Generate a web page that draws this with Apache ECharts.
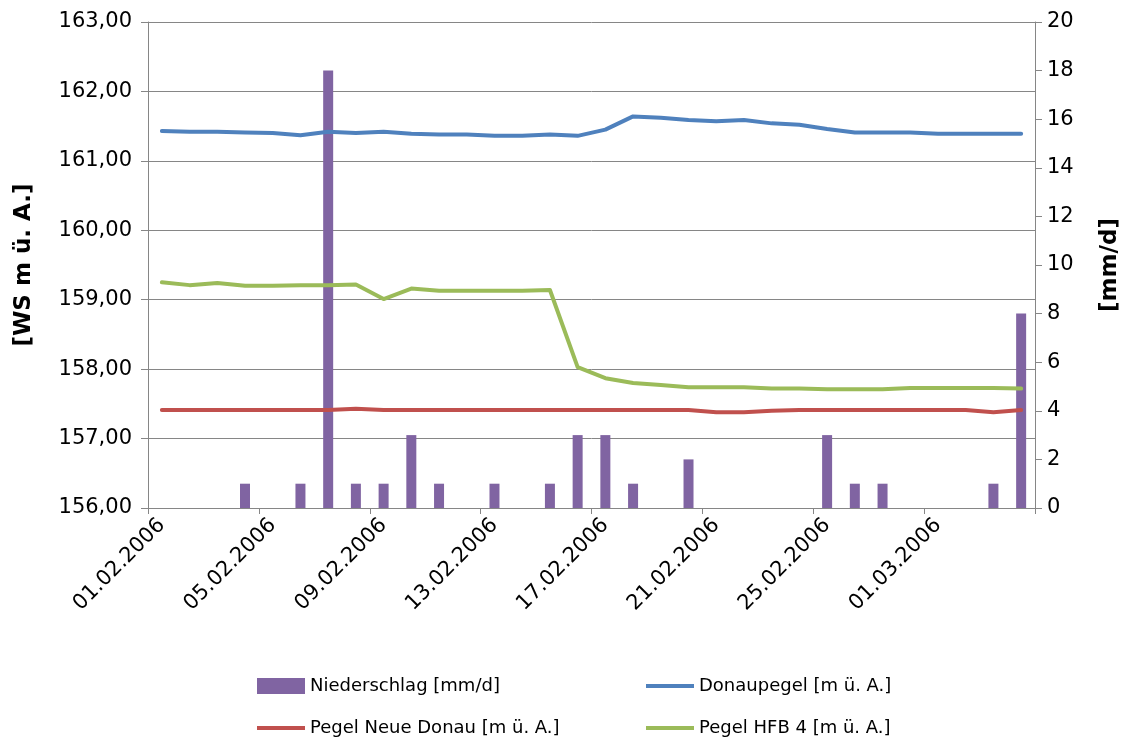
<!DOCTYPE html>
<html><head><meta charset="utf-8">
<script src="https://cdn.jsdelivr.net/npm/echarts@6/dist/echarts.min.js"></script>
<style>html,body{margin:0;padding:0;background:#fff}#c{width:1131px;height:740px}</style>
</head><body><div id="c"></div>
<script>
const dates = ['01.02.2006','02.02.2006','03.02.2006','04.02.2006','05.02.2006','06.02.2006','07.02.2006','08.02.2006',
  '09.02.2006','10.02.2006','11.02.2006','12.02.2006','13.02.2006','14.02.2006','15.02.2006','16.02.2006',
  '17.02.2006','18.02.2006','19.02.2006','20.02.2006','21.02.2006','22.02.2006','23.02.2006','24.02.2006',
  '25.02.2006','26.02.2006','27.02.2006','28.02.2006','01.03.2006','02.03.2006','03.03.2006','04.03.2006'];
const niederschlag = [0,0,0,1,0,1,18,1,1,3,1,0,1,0,1,3,3,1,0,2,0,0,0,0,3,1,1,0,0,0,1,8];
const donaupegel = [161.43,161.42,161.42,161.41,161.40,161.37,161.42,161.40,161.42,161.39,161.38,161.38,161.36,161.36,161.38,161.36,
  161.45,161.64,161.62,161.59,161.57,161.59,161.54,161.52,161.46,161.41,161.41,161.41,161.39,161.39,161.39,161.39];
const neueDonau = [157.41,157.41,157.41,157.41,157.41,157.41,157.41,157.43,157.41,157.41,157.41,157.41,157.41,157.41,157.41,157.41,
  157.41,157.41,157.41,157.41,157.38,157.38,157.40,157.41,157.41,157.41,157.41,157.41,157.41,157.41,157.38,157.41];
const hfb4 = [159.25,159.21,159.24,159.20,159.20,159.21,159.21,159.22,159.01,159.16,159.13,159.13,159.13,159.13,159.14,158.03,
  157.87,157.80,157.77,157.74,157.74,157.74,157.72,157.72,157.71,157.71,157.71,157.73,157.73,157.73,157.73,157.72];
const leftTicks = {min:156, max:163, interval:1};
const rightTicks = {min:0, max:20, interval:2};
const names = ['Niederschlag [mm/d]','Donaupegel [m ü. A.]','Pegel Neue Donau [m ü. A.]','Pegel HFB 4 [m ü. A.]'];

const FONT = 'DejaVu Sans';
const GREY = '#868686';
const chart = echarts.init(document.getElementById('c'), null, {renderer:'canvas'});
const legendBase = (name, left, top, w, h, color) => ({
  data:[{name, icon:'rect', itemStyle:{color}}], left, top, itemWidth:w, itemHeight:h, itemGap:0, padding:0,
  textStyle:{fontFamily:FONT, fontSize:18, color:'#000'},
  selectedMode:false
});
chart.setOption({
  animation:false,
  backgroundColor:'#fff',
  grid:{left:148, right:96, top:22, bottom:232, containLabel:false},
  legend:[
    legendBase(names[0], 257, 677, 48, 16, '#8064A2'),
    legendBase(names[1], 646, 677, 48, 4, '#4F81BD'),
    legendBase(names[2], 257, 719, 48, 4, '#C0504D'),
    legendBase(names[3], 646, 719, 48, 4, '#9BBB59')
  ],
  xAxis:{
    type:'category', data:dates, boundaryGap:true,
    axisLine:{lineStyle:{color:GREY, width:1}},
    axisTick:{show:true, interval:3, length:6, lineStyle:{color:GREY}},
    axisLabel:{interval:3, rotate:45, fontFamily:FONT, fontSize:21, color:'#000', margin:14}
  },
  yAxis:[
    {type:'value', min:leftTicks.min, max:leftTicks.max, interval:leftTicks.interval, position:'left',
     name:'[WS m ü. A.]', nameLocation:'middle', nameGap:112, nameRotate:90,
     nameTextStyle:{fontFamily:FONT, fontSize:23, fontWeight:'bold', color:'#000'},
     axisLine:{show:true, lineStyle:{color:GREY}},
     axisTick:{show:true, length:7, lineStyle:{color:GREY}},
     axisLabel:{fontFamily:FONT, fontSize:21, color:'#000', margin:16,
       formatter:v=>v.toFixed(2).replace('.',',')},
     splitLine:{show:true, lineStyle:{color:GREY, width:1}}},
    {type:'value', min:rightTicks.min, max:rightTicks.max, interval:rightTicks.interval, position:'right',
     name:'[mm/d]', nameLocation:'middle', nameGap:64, nameRotate:90,
     nameTextStyle:{fontFamily:FONT, fontSize:23, fontWeight:'bold', color:'#000'},
     axisLine:{show:true, lineStyle:{color:GREY}},
     axisTick:{show:true, length:7, lineStyle:{color:GREY}},
     axisLabel:{fontFamily:FONT, fontSize:21, color:'#000', margin:12},
     splitLine:{show:false}}
  ],
  series:[
    {name:names[0], type:'bar', yAxisIndex:1, data:niederschlag, barWidth:10, z:1,
     itemStyle:{color:'#8064A2'}},
    {name:names[1], type:'line', yAxisIndex:0, data:donaupegel, symbol:'none', z:3,
     lineStyle:{color:'#4F81BD', width:4, cap:'round', join:'round'}, itemStyle:{color:'#4F81BD'}},
    {name:names[2], type:'line', yAxisIndex:0, data:neueDonau, symbol:'none', z:3,
     lineStyle:{color:'#C0504D', width:4, cap:'round', join:'round'}, itemStyle:{color:'#C0504D'}},
    {name:names[3], type:'line', yAxisIndex:0, data:hfb4, symbol:'none', z:3,
     lineStyle:{color:'#9BBB59', width:4, cap:'round', join:'round'}, itemStyle:{color:'#9BBB59'}}
  ]
});
</script></body></html>
